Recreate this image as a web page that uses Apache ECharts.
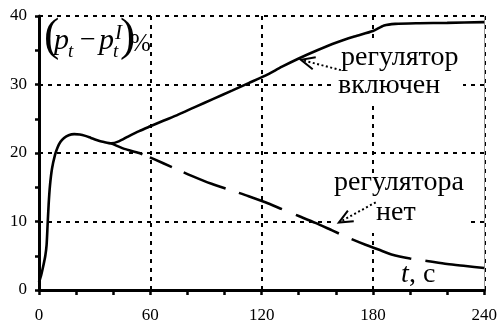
<!DOCTYPE html>
<html>
<head>
<meta charset="utf-8">
<script src="https://cdn.jsdelivr.net/npm/echarts@6/dist/echarts.min.js"></script>
<style>
  html, body { margin: 0; padding: 0; background: #fff; }
  #chart { width: 500px; height: 324px; }
</style>
</head>
<body>
<div id="chart"></div>
<script>
// Axis ticks (time, s and percent)
const xTicks = [0, 60, 120, 180, 240];
const yTicks = [0, 10, 20, 30, 40];

// Pressure deviation with the regulator switched on: [t, %]
const regulatorOn = [
  [0, 1.1], [1.2, 2.2], [2.3, 3.5], [3.4, 5], [4.1, 6.6], [4.6, 9.3], [5.2, 12.5], [5.9, 15.2],
  [7, 17.7], [8.6, 19.7], [10, 20.8], [11.5, 21.6], [13.5, 22.2], [16, 22.6], [19, 22.75],
  [22, 22.7], [25, 22.5], [28, 22.2], [31, 21.9], [35, 21.6], [39, 21.4], [43, 21.7],
  [48, 22.4], [54, 23.2], [60, 23.9], [67, 24.7], [75, 25.6], [84, 26.7], [94, 27.9],
  [104, 29.1], [113, 30.2], [122, 31.3], [131, 32.6], [140, 33.8], [150, 35], [160, 36.1],
  [170, 37], [180, 37.8], [186, 38.6], [192, 38.85], [205, 38.95], [220, 39], [240, 39.1]
];

// Pressure deviation without the regulator: [t, %]
const regulatorOff = [
  [39, 21.4], [46, 20.6], [54, 20], [62, 19.1], [72, 17.9], [82, 16.7], [93, 15.5],
  [103, 14.6], [113, 13.7], [122, 12.8], [131, 11.8], [140, 10.8], [149, 9.8], [158, 8.7],
  [167, 7.6], [176, 6.6], [183, 5.9], [190, 5.2], [200, 4.6], [210, 4.2],
  [220, 3.8], [230, 3.5], [240, 3.2]
];

const serif = 'Liberation Serif';

// hand-drawn style long dashes (dash, gap, dash, gap ...), in pixels along the curve
const longDash = [33, 8, 24, 13, 45, 14, 46, 15, 47, 14, 63, 14, 80];

const chart = echarts.init(document.getElementById('chart'), null, { renderer: 'canvas' });

const dotted = { color: '#000', width: 2, type: [4, 5] };

chart.setOption({
  animation: false,
  backgroundColor: '#fff',
  grid: { left: 39, right: 14, top: 16, bottom: 33, containLabel: false },
  xAxis: {
    type: 'value',
    min: xTicks[0],
    max: xTicks[xTicks.length - 1],
    interval: xTicks[1] - xTicks[0],
    axisLine: { show: true, onZero: false, lineStyle: { color: '#000', width: 3 } },
    axisTick: { show: true, length: 5, lineStyle: { color: '#000', width: 2.5 } },
    minorTick: { show: true, splitNumber: 3, length: 5, lineStyle: { color: '#000', width: 2.5 } },
    axisLabel: { color: '#000', fontFamily: serif, fontSize: 17, margin: 17 },
    splitLine: { show: true, showMinLine: false, lineStyle: dotted }
  },
  yAxis: [{
    type: 'value',
    min: yTicks[0],
    max: yTicks[yTicks.length - 1],
    interval: yTicks[1] - yTicks[0],
    axisLine: { show: true, onZero: false, lineStyle: { color: '#000', width: 3 } },
    axisTick: { show: true, length: 4, lineStyle: { color: '#000', width: 2.5 } },
    minorTick: { show: true, splitNumber: 2, length: 4, lineStyle: { color: '#000', width: 2.5 } },
    axisLabel: { color: '#000', fontFamily: serif, fontSize: 17, margin: 12 },
    splitLine: { show: true, showMinLine: false, lineStyle: dotted }
  }, {
    type: 'value',
    position: 'right',
    min: yTicks[0],
    max: yTicks[yTicks.length - 1],
    axisLine: { show: true, onZero: false, lineStyle: { color: '#999', width: 1 } },
    axisTick: { show: false },
    axisLabel: { show: false },
    splitLine: { show: false }
  }],
  series: [{
    name: 'регулятор включен',
    type: 'line',
    data: regulatorOn,
    showSymbol: false,
    smooth: 0.25,
    z: 4,
    lineStyle: { color: '#000', width: 2.6 }
  }, {
    name: 'регулятора нет',
    type: 'line',
    data: regulatorOff,
    showSymbol: false,
    smooth: 0.25,
    z: 4,
    lineStyle: { color: '#000', width: 2.6, type: longDash }
  }]
});

// Annotation arrows, given in data coordinates: tail -> tip
const arrows = [
  { tail: [162.7, 32.1], tip: [141.2, 33.6] },
  { tail: [181.5, 12.8], tip: [161.6, 9.85] }
];

function arrowGraphics(a) {
  const p0 = chart.convertToPixel({ gridIndex: 0 }, a.tail);
  const p1 = chart.convertToPixel({ gridIndex: 0 }, a.tip);
  const dx = p0[0] - p1[0], dy = p0[1] - p1[1];
  const len = Math.hypot(dx, dy);
  const ux = dx / len, uy = dy / len;
  const head = 15, ang = 0.42;
  const rot = (c, s) => [p1[0] + head * (ux * c - uy * s), p1[1] + head * (ux * s + uy * c)];
  const b1 = rot(Math.cos(ang), Math.sin(ang));
  const b2 = rot(Math.cos(-ang), Math.sin(-ang));
  return [
    { type: 'polyline', z: 5, shape: { points: [p0, [p1[0] + ux * 3, p1[1] + uy * 3]] },
      style: { stroke: '#000', lineWidth: 2, lineDash: [2, 2.5], fill: null } },
    { type: 'polyline', z: 5, shape: { points: [b1, p1, b2] },
      style: { stroke: '#000', lineWidth: 2, fill: null } }
  ];
}

function label(text, x, y, size, italic) {
  return {
    type: 'text', z: 6, x: x, y: y,
    style: {
      text: text, fill: '#000',
      fontFamily: serif, fontSize: size, fontStyle: italic ? 'italic' : 'normal',
      align: 'left', verticalAlign: 'middle'
    }
  };
}

const graphics = [
  // white panels behind the two captions
  { type: 'rect', z: 1, shape: { x: 335, y: 42, width: 128, height: 60 }, style: { fill: '#fff' } },
  { type: 'rect', z: 1, shape: { x: 331, y: 173, width: 135, height: 60 }, style: { fill: '#fff' } },

  label('регулятор', 341, 58, 28, false),
  label('включен', 338, 86, 28, false),
  label('регулятора', 334, 183, 28, false),
  label('нет', 376, 213, 28, false),

  label('t', 401, 275, 28, true),
  label(', с', 409, 275, 28, false),

  // (p_t − p_t^I)%
  label('(', 44, 37.5, 46, false),
  label('p', 54, 41.5, 30, true),
  label('t', 68, 52, 19, true),
  label('−', 80, 41, 28, false),
  label('p', 99, 41.5, 30, true),
  label('I', 115, 33.5, 21, true),
  label('t', 113, 52, 19, true),
  label(')', 120, 37.5, 46, false),
  label('%', 130, 44, 25, false)
];

arrows.forEach(a => graphics.push(...arrowGraphics(a)));
chart.setOption({ graphic: graphics });
</script>
</body>
</html>
